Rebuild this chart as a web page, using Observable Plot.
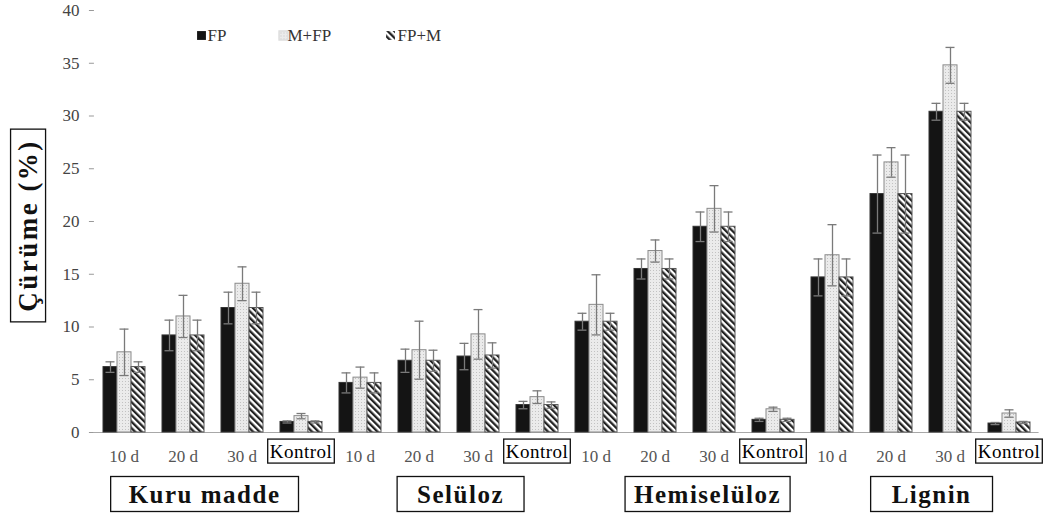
<!DOCTYPE html>
<html><head><meta charset="utf-8">
<script src="https://cdn.jsdelivr.net/npm/d3@7"></script>
<script src="https://cdn.jsdelivr.net/npm/@observablehq/plot@0.6"></script>
<style>
body{margin:0;background:#fff}
#chart svg{display:block}
#chart svg, #chart svg text{font-family:"Liberation Serif","Times New Roman",serif !important}
</style></head><body><div id="chart"></div>
<script>
// ---- data ----
const groups = ["Kuru madde", "Selüloz", "Hemiselüloz", "Lignin"];
const times = ["10 d", "20 d", "30 d", "Kontrol"];
const series = ["FP", "M+FP", "FP+M"];
const yLabel = "Çürüme (%)";
const yTicks = [0, 5, 10, 15, 20, 25, 30, 35, 40];

// means, order: group x time
const fpMeans  = [6.2, 9.2, 11.8, 1.0,   4.7, 6.8, 7.2, 2.6,   10.5, 15.5, 19.5, 1.2,   14.7, 22.6, 30.4, 0.85];
const mfpMeans = [7.6, 11.0, 14.1, 1.55, 5.2, 7.8, 9.3, 3.35,  12.1, 17.2, 21.2, 2.2,   16.8, 25.6, 34.8, 1.8];
const fpmMeans = [6.2, 9.2, 11.8, 1.0,   4.7, 6.8, 7.3, 2.6,   10.5, 15.5, 19.5, 1.2,   14.7, 22.6, 30.4, 0.95];
// error half-widths
const fpErr    = [0.5, 1.45, 1.5, 0.1,   0.95, 1.1, 1.25, 0.35, 0.8, 0.95, 1.4, 0.15,   1.75, 3.7, 0.8, 0.1];
const mfpErr   = [2.2, 2.0, 1.6, 0.25,   1.0, 2.75, 2.35, 0.6,  2.85, 1.05, 2.2, 0.2,   2.9, 1.4, 1.7, 0.35];
const fpmErr   = [0.5, 1.45, 1.5, 0.1,   0.95, 1.0, 1.2, 0.3,   0.8, 0.95, 1.4, 0.15,   1.75, 3.7, 0.8, 0.1];

// ---- layout / style ----
const W = 1050, H = 519, ML = 88, MR = 5, MT = 10, MB = 87;
const PAD = 0.27;
const FONT = "Liberation Serif, serif";
const seriesFill = ["#141414", "url(#dots)", "url(#hatch)"];
const seriesStroke = ["#333", "#8a8a8a", "#555"];
const legendSwatchDx = [99, 181, 288];
const legendTextDx = [105, 185, 295];
const groupLabelDx = [-8, 12, 23, 11];     // offset of each group label from its group's centre
const groupBoxPad = [18, 20, 9, 21];       // horizontal padding of each group label box

// ---- tables ----
const keys = groups.flatMap(g => times.map(t => `${g}|${t}`));
const catRows = groups.flatMap(g => times.map(t => ({key: `${g}|${t}`, group: g, time: t})));
const meansBy = {"FP": fpMeans, "M+FP": mfpMeans, "FP+M": fpmMeans};
const errBy = {"FP": fpErr, "M+FP": mfpErr, "FP+M": fpmErr};
const rows = series.flatMap(s => keys.map((k, i) => ({
  key: k, series: s, value: meansBy[s][i],
  lo: meansBy[s][i] - errBy[s][i], hi: meansBy[s][i] + errBy[s][i]
})));
const step = (W - ML - MR) / keys.length;
const gap = step * PAD;

const separators = groups.map((g, i) => ({key: `${g}|${times[0]}`, top: i === 0 ? 40 : 0}));
const lastKey = keys[keys.length - 1];

const chart = Plot.plot({
  width: W, height: H,
  marginLeft: ML, marginRight: MR, marginTop: MT, marginBottom: MB,
  style: {fontFamily: FONT, background: "#fff", overflow: "visible"},
  fx: {domain: keys, paddingInner: PAD, paddingOuter: PAD / 2, axis: null, label: null},
  x: {domain: series, padding: 0, axis: null},
  y: {domain: [0, 40], axis: null},
  marks: [
    // y axis (leftmost facet, shifted to the outer frame edge)
    Plot.axisY(yTicks, {dx: -gap / 2, tickSize: 5, tickPadding: 10, stroke: "#999", fill: "#444", fontSize: 17, label: null}),
    // baseline, continuous across facet gaps
    Plot.ruleY([0], {insetLeft: -gap / 2 - 0.5, insetRight: -gap / 2 - 0.5, stroke: "#a8a8a8", strokeWidth: 1.2}),
    // vertical axis line + group separators
    Plot.ruleX(separators, {fx: "key", y1: "top", dx: -step / 2, insetBottom: -68, stroke: "#b0b0b0", strokeWidth: 1.2}),
    Plot.ruleX([lastKey], {fx: d => d, y1: 0, dx: step / 2, insetBottom: -68, stroke: "#b0b0b0", strokeWidth: 1.2}),
    // bars
    ...series.map((s, i) => Plot.barY(rows.filter(r => r.series === s), {
      fx: "key", x: "series", y: "value", fill: seriesFill[i], stroke: seriesStroke[i], strokeWidth: 1
    })),
    // error bars
    Plot.ruleX(rows, {fx: "key", x: "series", y1: "lo", y2: "hi", stroke: "#7a7a7a", strokeWidth: 1.3}),
    Plot.tickY(rows, {fx: "key", x: "series", y: "hi", inset: 2.5, stroke: "#7a7a7a", strokeWidth: 1.3}),
    Plot.tickY(rows, {fx: "key", x: "series", y: "lo", inset: 2.5, stroke: "#7a7a7a", strokeWidth: 1.3}),
    // category labels
    Plot.text(catRows.filter(d => d.time !== "Kontrol"), {
      fx: "key", text: "time", frameAnchor: "bottom", lineAnchor: "middle", dy: 24,
      fontSize: 17, fill: "#555"
    }),
    Plot.text(catRows.filter(d => d.time === "Kontrol"), {
      fx: "key", text: "time", frameAnchor: "bottom", lineAnchor: "middle", dy: 19,
      fontSize: 19, fill: "#000"
    }),
    // group labels (centred between the 20 d and 30 d bands of each group)
    ...groups.map((g, i) => Plot.text([g], {
      fx: d => `${d}|${times[1]}`, text: d => d, frameAnchor: "bottom-right", textAnchor: "middle",
      lineAnchor: "middle", dx: gap / 2 + groupLabelDx[i], dy: 62, fontSize: 25, fontWeight: "bold", fill: "#111"
    })),
    // y label
    Plot.text([yLabel], {
      fx: () => keys[0], text: d => d, frameAnchor: "left", textAnchor: "middle", rotate: -90,
      dx: -gap / 2 - 66, dy: 4, fontSize: 27, fontWeight: "bold", fill: "#111"
    }),
    // legend
    ...series.map((s, i) => Plot.dot([s], {
      facet: "super", frameAnchor: "top-left", dx: legendSwatchDx[i], dy: 25,
      symbol: "square", r: 5, fill: seriesFill[i], stroke: i === 1 ? "#ddd" : "none"
    })),
    ...series.map((s, i) => Plot.text([s], {
      facet: "super", frameAnchor: "top-left", dx: legendTextDx[i], dy: 25, textAnchor: "start",
      lineAnchor: "middle", text: d => d, fontSize: 17, fill: "#333"
    }))
  ]
});

// pattern definitions
const defs = d3.create("svg:defs");
const dots = defs.append("pattern").attr("id", "dots").attr("width", 3).attr("height", 3).attr("patternUnits", "userSpaceOnUse");
dots.append("rect").attr("width", 3).attr("height", 3).attr("fill", "#ebebeb");
dots.append("rect").attr("width", 1).attr("height", 1).attr("fill", "#c2c2c2");
const hatch = defs.append("pattern").attr("id", "hatch").attr("width", 4.6).attr("height", 4.6)
  .attr("patternUnits", "userSpaceOnUse").attr("patternTransform", "rotate(-45)");
hatch.append("rect").attr("width", 4.6).attr("height", 4.6).attr("fill", "#fff");
hatch.append("rect").attr("width", 2.3).attr("height", 4.6).attr("fill", "#222");
chart.insertBefore(defs.node(), chart.firstChild);

document.getElementById("chart").appendChild(chart);

// boxes around some labels
const boxSpec = [
  {match: t => t === "Kontrol", px: () => 2, py: 1.5, ls: 0.5},
  {match: t => groups.includes(t), px: t => groupBoxPad[groups.indexOf(t)], py: 4, ls: 1.5},
  {match: t => t === yLabel, px: () => 10, py: 2.5, ls: 2.5}
];
chart.querySelectorAll("text").forEach(t => {
  const label = t.textContent;
  const s = boxSpec.find(b => b.match(label));
  if (!s) return;
  if (s.ls) t.style.letterSpacing = s.ls + "px";
  const b = t.getBBox();
  const px = s.px(label);
  const r = document.createElementNS("http://www.w3.org/2000/svg", "rect");
  r.setAttribute("x", b.x - px);
  r.setAttribute("y", b.y - s.py);
  r.setAttribute("width", b.width + 2 * px);
  r.setAttribute("height", b.height + 2 * s.py);
  r.setAttribute("fill", "none");
  r.setAttribute("stroke", "#111");
  r.setAttribute("stroke-width", 1.3);
  if (t.getAttribute("transform")) r.setAttribute("transform", t.getAttribute("transform"));
  t.parentNode.insertBefore(r, t);
});
</script></body></html>
